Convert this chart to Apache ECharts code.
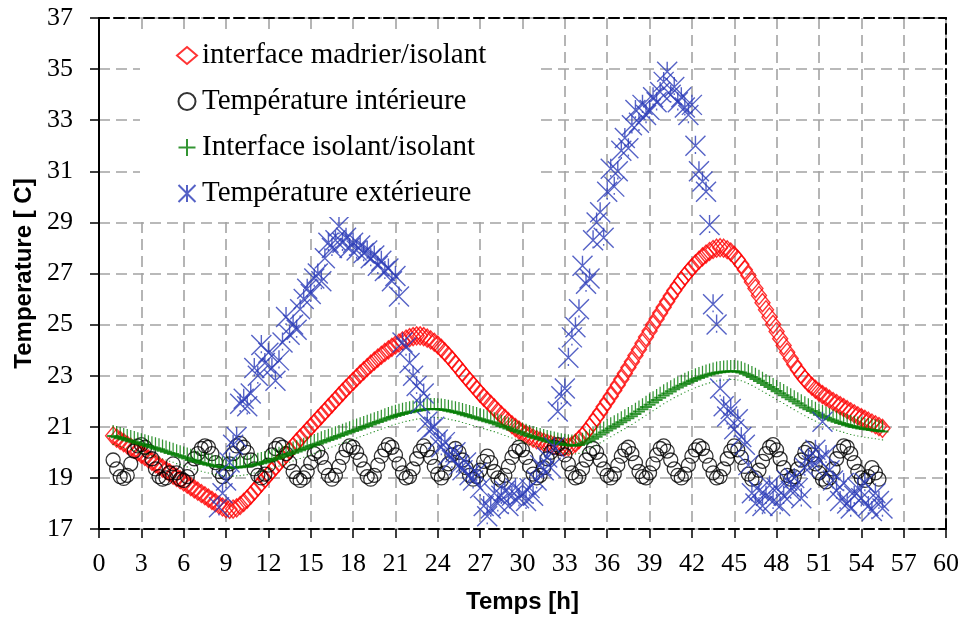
<!DOCTYPE html>
<html>
<head>
<meta charset="utf-8">
<script src="https://cdn.jsdelivr.net/npm/echarts@6/dist/echarts.min.js"></script>
<style>
  html, body { margin: 0; padding: 0; background: #fff; }
  #main { width: 967px; height: 619px; }
</style>
</head>
<body>
<div id="main"></div>
<script>
// temps : pas de 0.25 h
var tStart = 1, tStep = 0.25;
var tStartExt = 8.5;

var seriesNames = ['interface madrier/isolant', 'Température intérieure', 'Interface isolant/isolant', 'Température extérieure'];

// interface madrier/isolant (1 h -> 55.5 h)
var madrier = [
  20.65, 20.56, 20.47, 20.38, 20.29, 20.20, 20.11, 20.02, 19.93, 19.84,
  19.74, 19.65, 19.56, 19.47, 19.38, 19.29, 19.20, 19.11, 19.02, 18.93,
  18.84, 18.75, 18.66, 18.57, 18.48, 18.39, 18.30, 18.21, 18.12, 18.03,
  17.94, 17.86, 17.80, 17.77, 17.78, 17.83, 17.92,
  18.04, 18.17, 18.32, 18.48, 18.64, 18.80, 18.96, 19.12,
  19.28, 19.44, 19.60, 19.76, 19.92, 20.08, 20.24, 20.40,
  20.55, 20.70, 20.85, 21.00, 21.15, 21.30, 21.45, 21.60,
  21.75, 21.90, 22.05, 22.20, 22.35, 22.50, 22.64, 22.78,
  22.92, 23.06, 23.19, 23.32, 23.45, 23.57, 23.69, 23.80,
  23.91, 24.01, 24.11, 24.20, 24.28, 24.36, 24.43, 24.49,
  24.53, 24.56, 24.56,
  24.53, 24.47, 24.40, 24.31, 24.20, 24.07, 23.93, 23.78,
  23.62, 23.46, 23.29, 23.12, 22.95, 22.79, 22.63, 22.47,
  22.31, 22.16, 22.02, 21.88, 21.74, 21.60, 21.46, 21.33,
  21.20, 21.08, 20.97, 20.87, 20.78, 20.70, 20.63, 20.56,
  20.50, 20.45, 20.40, 20.35, 20.31, 20.27, 20.24, 20.22,
  20.21, 20.22, 20.26, 20.36,
  20.50, 20.64, 20.80, 20.98, 21.17, 21.37, 21.57, 21.78,
  21.99, 22.20, 22.42, 22.64, 22.86, 23.09, 23.32, 23.55,
  23.79, 24.03, 24.27, 24.51, 24.75, 24.99, 25.22, 25.45,
  25.68, 25.90, 26.12, 26.33, 26.53, 26.72, 26.90, 27.07,
  27.23, 27.38, 27.52, 27.65, 27.76, 27.86, 27.94, 27.99,
  28.01, 27.99,
  27.93, 27.84, 27.71, 27.55, 27.36, 27.15, 26.92, 26.67,
  26.41, 26.14, 25.86, 25.58, 25.30, 25.01, 24.73, 24.45,
  24.18, 23.92, 23.67, 23.44, 23.23, 23.04, 22.87, 22.72,
  22.59, 22.47, 22.36, 22.26, 22.17, 22.08, 21.99, 21.91,
  21.83, 21.75, 21.67, 21.59, 21.51, 21.43, 21.36, 21.29,
  21.22, 21.15, 21.08, 21.01, 20.94
];

// Température intérieure (1 h -> 55.25 h)
var interieure = [
  19.70, 19.35, 19.05, 18.98, 19.10, 19.55, 20.05, 20.25,
  20.30, 20.20, 20.05, 19.75, 19.35, 19.05, 18.95, 19.00,
  19.20, 19.55, 19.20, 18.95, 18.90, 19.05, 19.35, 19.75,
  19.95, 20.15, 20.25, 20.20, 19.95, 19.60, 19.25, 19.05,
  19.20, 19.55, 19.95, 20.25, 20.35, 20.20, 20.00, 19.70,
  19.35, 19.10, 19.00, 19.15, 19.50, 19.90, 20.15, 20.30,
  20.20, 19.95, 19.60, 19.25, 19.00, 18.90, 19.00, 19.25,
  19.60, 19.95, 20.05, 19.80, 19.40, 19.10, 18.95, 19.10,
  19.45, 19.80, 20.10, 20.25, 20.20, 20.00, 19.70, 19.35,
  19.05, 18.95, 19.10, 19.50, 19.85, 20.10, 20.30, 20.20,
  19.90, 19.55, 19.20, 19.00, 19.05, 19.35, 19.75, 20.05,
  20.25, 20.10, 19.80, 19.45, 19.15, 19.00, 19.20, 19.55,
  19.90, 20.15, 20.00, 19.70, 19.40, 19.10, 18.95, 19.05,
  19.30, 19.65, 19.85, 19.60, 19.25, 19.00, 18.90, 19.10,
  19.45, 19.80, 20.05, 20.20, 20.10, 19.80, 19.45, 19.15,
  19.00, 19.10, 19.40, 19.75, 20.00, 20.20, 20.30, 20.15,
  19.90, 19.55, 19.20, 19.00, 19.05, 19.35, 19.70, 19.95,
  20.15, 20.00, 19.70, 19.35, 19.10, 19.00, 19.15, 19.50,
  19.85, 20.10, 20.20, 19.95, 19.60, 19.25, 19.05, 19.00,
  19.20, 19.55, 19.90, 20.15, 20.25, 20.05, 19.70, 19.35,
  19.10, 19.00, 19.15, 19.50, 19.85, 20.10, 20.25, 20.15,
  19.85, 19.50, 19.20, 19.00, 19.05, 19.35, 19.75, 20.05,
  20.25, 20.10, 19.80, 19.45, 19.15, 18.95, 19.00, 19.30,
  19.65, 19.95, 20.20, 20.30, 20.10, 19.75, 19.40, 19.10,
  18.95, 19.05, 19.35, 19.70, 20.00, 20.15, 19.90, 19.55,
  19.20, 18.95, 18.85, 19.00, 19.35, 19.75, 20.05, 20.25,
  20.20, 19.95, 19.60, 19.25, 19.00, 18.90, 19.05, 19.40,
  19.20, 18.95
];

// Interface isolant/isolant (1 h -> 55.5 h)
var isolant = [
  20.68, 20.64, 20.60, 20.56, 20.52, 20.48, 20.44, 20.40, 20.36, 20.32,
  20.28, 20.24, 20.20, 20.16, 20.11, 20.07, 20.02, 19.98, 19.93, 19.89,
  19.84, 19.80, 19.75, 19.71, 19.67, 19.63, 19.59, 19.56, 19.53, 19.50,
  19.48, 19.46, 19.45, 19.44, 19.44, 19.45, 19.46,
  19.48, 19.50, 19.53, 19.56, 19.59, 19.62, 19.66, 19.70,
  19.74, 19.78, 19.83, 19.88, 19.93, 19.98, 20.03, 20.08,
  20.13, 20.18, 20.23, 20.28, 20.33, 20.38, 20.43, 20.48,
  20.53, 20.58, 20.63, 20.68, 20.73, 20.78, 20.83, 20.88,
  20.93, 20.98, 21.03, 21.08, 21.13, 21.18, 21.23, 21.28,
  21.33, 21.38, 21.43, 21.47, 21.51, 21.55, 21.58, 21.61,
  21.64, 21.67, 21.69,
  21.71, 21.73, 21.74, 21.74, 21.73, 21.72, 21.70, 21.67,
  21.64, 21.61, 21.58, 21.54, 21.50, 21.46, 21.42, 21.38,
  21.34, 21.30, 21.26, 21.22, 21.18, 21.13, 21.08, 21.03,
  20.98, 20.93, 20.88, 20.83, 20.78, 20.73, 20.68, 20.64,
  20.60, 20.56, 20.52, 20.48, 20.45, 20.42, 20.39, 20.36,
  20.34, 20.32, 20.31, 20.31,
  20.33, 20.38, 20.44, 20.51, 20.58, 20.66, 20.74, 20.82,
  20.90, 20.98, 21.06, 21.14, 21.22, 21.30, 21.38, 21.46,
  21.55, 21.64, 21.73, 21.82, 21.91, 22.00, 22.09, 22.18,
  22.27, 22.35, 22.43, 22.51, 22.58, 22.65, 22.72, 22.78,
  22.84, 22.90, 22.95, 23.00, 23.05, 23.09, 23.13, 23.16,
  23.18, 23.20,
  23.21, 23.22, 23.22, 23.20, 23.17, 23.12, 23.06, 22.99,
  22.92, 22.84, 22.76, 22.68, 22.60, 22.52, 22.44, 22.36,
  22.28, 22.20, 22.12, 22.04, 21.96, 21.88, 21.80, 21.73,
  21.66, 21.59, 21.52, 21.46, 21.40, 21.34, 21.29, 21.24,
  21.19, 21.15, 21.11, 21.07, 21.04, 21.01, 20.98, 20.96,
  20.94, 20.92, 20.90, 20.88, 20.86
];

// Température extérieure (8.5 h -> 55.5 h)
var exterieure = [
  17.85, 18.4, 18.9, 19.6, 20.3, 20.6, 21.9, 22.1,
  21.8, 22.3, 23.3, 23.0, 24.2, 23.5, 23.9, 23.3,
  22.8, 23.6, 24.3, 25.3, 24.6, 25.0, 24.8, 25.6,
  26.0, 26.4, 26.2, 26.8, 27.0, 26.7, 27.6, 28.2,
  28.0, 28.3, 28.85, 28.2, 28.4, 28.0, 28.2, 27.9,
  28.1, 27.8, 27.9, 27.6, 27.7, 27.3, 27.5, 27.1,
  27.2, 26.7, 26.9, 26.1, 24.3, 24.1, 23.5, 23.0,
  22.6, 21.9, 22.3, 21.2, 20.9, 21.0, 20.5, 20.2,
  20.4, 19.9, 19.7, 20.0, 19.5, 19.3, 19.6, 19.1,
  18.9, 19.2, 18.6, 17.9, 17.5, 17.8, 18.4, 18.0,
  18.3, 18.5, 17.9, 18.3, 18.6, 18.2, 18.4, 18.1,
  18.6, 18.3, 18.9, 19.5, 19.3, 19.8, 19.4, 20.2,
  21.6, 22.2, 22.5, 23.7, 24.5, 24.9, 25.6, 27.3,
  26.6, 26.8, 28.3, 29.0, 29.4, 28.4, 30.2, 31.1,
  30.4, 31.0, 31.8, 32.3, 31.9, 32.8, 33.4, 32.9,
  33.6, 33.2, 33.4, 33.9, 33.7, 34.1, 34.5, 34.9,
  34.0, 34.3, 33.7, 33.9, 33.5, 33.2, 33.6, 32.0,
  31.0, 30.6, 30.2, 28.9, 25.8, 25.0, 22.5, 21.8,
  21.4, 21.7, 20.9, 21.3, 20.6, 20.3, 19.5, 18.4,
  18.0, 18.5, 17.9, 18.3, 18.7, 18.1, 18.6, 17.9,
  18.3, 18.9, 18.5, 19.0, 18.6, 18.2, 19.4, 19.8,
  19.5, 20.1, 19.7, 21.2, 19.9, 19.3, 18.9, 18.5,
  18.1, 18.8, 18.0, 17.8, 18.3, 18.6, 18.2, 18.8,
  17.9, 17.7, 18.4, 18.1, 17.8
];

function toPoints(values, t0) {
  var pts = [];
  for (var i = 0; i < values.length; i++) {
    pts.push([t0 + i * tStep, values[i]]);
  }
  return pts;
}

// marqueurs style Excel
var plusPath = 'path://M6,0L6,11M0,10L12,10M6,17L6,18';
var starPath = 'path://M0,0L16,16M16,0L0,16M8,0L8,8.5M8,13L8,14.5';
// icones de legende (sans les petits points)
var plusIcon = 'path://M6,0L6,12M0,6L12,6';
var starIcon = 'path://M0,0L16,16M16,0L0,16M8,0L8,16';

function scatter(name, values, t0, symbol, size, color, lw) {
  return {
    name: name,
    type: 'scatter',
    data: toPoints(values, t0),
    symbol: symbol,
    symbolSize: size,
    itemStyle: { color: 'transparent', borderColor: color, borderWidth: lw },
    emphasis: { disabled: true },
    animation: false
  };
}

var gridLine = { show: true, lineStyle: { color: '#a3a3a3', width: 1.6, type: [11, 6] } };
var serifFont = 'Liberation Serif';

var option = {
  backgroundColor: '#fff',
  animation: false,
  grid: { left: 99, right: 21, top: 18, bottom: 88 },
  legend: {
    data: [
      { name: seriesNames[0] },
      { name: seriesNames[1] },
      { name: seriesNames[2], icon: plusIcon },
      { name: seriesNames[3], icon: starIcon }
    ],
    orient: 'vertical',
    left: 140,
    top: 32,
    padding: [9, 54, 9, 36],
    itemGap: 17,
    itemWidth: 20,
    itemHeight: 17,
    backgroundColor: '#fff',
    textStyle: { fontFamily: serifFont, fontSize: 29, color: '#000', lineHeight: 29 }
  },
  xAxis: [{
    type: 'value', min: 0, max: 60, interval: 3,
    name: 'Temps [h]', nameLocation: 'middle', nameGap: 61,
    nameTextStyle: { fontFamily: 'Liberation Sans', fontWeight: 'bold', fontSize: 24, color: '#000' },
    axisLine: { onZero: false, lineStyle: { color: '#000', width: 2, type: [10, 5] } },
    axisTick: { show: true, inside: false, length: 9, lineStyle: { color: '#000', width: 1.5 } },
    axisLabel: { fontFamily: serifFont, fontSize: 26, color: '#000', margin: 22 },
    splitLine: gridLine
  }, {
    type: 'value', min: 0, max: 60, position: 'top',
    axisLine: { onZero: false, lineStyle: { color: '#000', width: 2, type: [10, 5] } },
    axisTick: { show: false }, axisLabel: { show: false }, splitLine: { show: false }
  }],
  yAxis: [{
    type: 'value', min: 17, max: 37, interval: 2,
    name: 'Temperature [ C]', nameLocation: 'middle', nameGap: 63,
    nameTextStyle: { fontFamily: 'Liberation Sans', fontWeight: 'bold', fontSize: 24, color: '#000' },
    axisLine: { show: true, onZero: false, lineStyle: { color: '#000', width: 2 } },
    axisTick: { show: true, inside: false, length: 9, lineStyle: { color: '#000', width: 1.5 } },
    axisLabel: { fontFamily: serifFont, fontSize: 26, color: '#000', margin: 26 },
    splitLine: gridLine
  }, {
    type: 'value', min: 17, max: 37, position: 'right',
    axisLine: { show: true, onZero: false, lineStyle: { color: '#000', width: 2, type: [10, 5] } },
    axisTick: { show: false }, axisLabel: { show: false }, splitLine: { show: false }
  }],
  series: [
    scatter(seriesNames[0], madrier, tStart, 'diamond', [15, 18], '#ff0000', 1.4),
    scatter(seriesNames[1], interieure, tStart, 'circle', 14, '#000000', 1.3),
    scatter(seriesNames[2], isolant, tStart, plusPath, [12, 20], '#007a00', 1.6),
    scatter(seriesNames[3], exterieure, tStartExt, starPath, 20, '#2b3bb8', 1.4)
  ]
};

var myChart = echarts.init(document.getElementById('main'));
myChart.setOption(option);
</script>
</body>
</html>
